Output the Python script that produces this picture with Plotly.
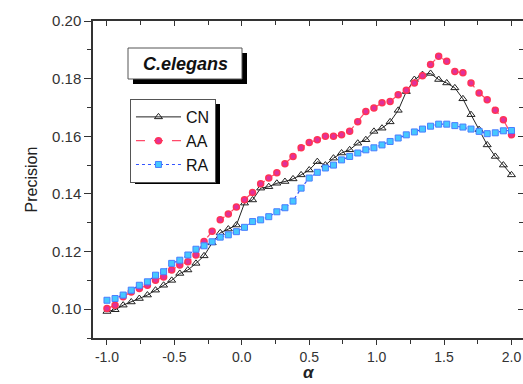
import plotly.graph_objects as go

alpha = [round(-1 + 0.06 * k, 2) for k in range(51)]

cn = [0.0992, 0.0998, 0.1014, 0.1025, 0.1037, 0.1049, 0.1066, 0.1083, 0.1100, 0.1124,
      0.1136, 0.1159, 0.1185, 0.1230, 0.1265, 0.1278, 0.1292, 0.1368, 0.1379, 0.1420,
      0.1425, 0.1437, 0.1443, 0.1452, 0.1466, 0.1483, 0.1512, 0.1500, 0.1524, 0.1542,
      0.1553, 0.1576, 0.1588, 0.1617, 0.1628, 0.1650, 0.1690, 0.1755, 0.1797, 0.1814,
      0.1818, 0.1797, 0.1785, 0.1768, 0.1730, 0.1675, 0.1623, 0.1570, 0.1530, 0.1500,
      0.1466]

aa = [0.1002, 0.1014, 0.1043, 0.1060, 0.1072, 0.1083, 0.1100, 0.1112, 0.1136, 0.1153,
      0.1165, 0.1188, 0.1235, 0.1270, 0.1310, 0.1330, 0.1355, 0.1380, 0.1405, 0.1435,
      0.1455, 0.1473, 0.1505, 0.1530, 0.1560, 0.1578, 0.1588, 0.1600, 0.1600, 0.1605,
      0.1617, 0.1650, 0.1686, 0.1698, 0.1716, 0.1721, 0.1744, 0.1760, 0.1785, 0.1810,
      0.1849, 0.1878, 0.1860, 0.1825, 0.1820, 0.1785, 0.1750, 0.1727, 0.1690, 0.1657,
      0.1605]

ra = [0.1031, 0.1037, 0.1049, 0.1066, 0.1083, 0.1095, 0.1118, 0.1130, 0.1159, 0.1170,
      0.1188, 0.1208, 0.1220, 0.1234, 0.1250, 0.1258, 0.1269, 0.1284, 0.1304, 0.1310,
      0.1321, 0.1338, 0.1352, 0.1375, 0.1420, 0.1455, 0.1475, 0.1490, 0.1500, 0.1518,
      0.1530, 0.1542, 0.1553, 0.1560, 0.1570, 0.1582, 0.1594, 0.1605, 0.1615, 0.1625,
      0.1635, 0.1642, 0.1642, 0.1637, 0.1632, 0.1625, 0.1617, 0.1609, 0.1612, 0.1619,
      0.1620]

x_tickvals = [-1.0, -0.5, 0.0, 0.5, 1.0, 1.5, 2.0]
x_ticktext = ["-1.0", "-0.5", "0.0", "0.5", "1.0", "1.5", "2.0"]
y_tickvals = [0.10, 0.12, 0.14, 0.16, 0.18, 0.20]
y_ticktext = ["0.10", "0.12", "0.14", "0.16", "0.18", "0.20"]

FONT = "Liberation Sans, Arial, sans-serif"
AXC = "#333333"

fig = go.Figure()
fig.add_trace(go.Scatter(
    x=alpha, y=cn, name="CN", mode="lines+markers",
    line=dict(color="#222222", width=1),
    marker=dict(symbol="triangle-up-open", size=7, color="#222222", line=dict(width=1))))
fig.add_trace(go.Scatter(
    x=alpha, y=aa, name="AA", mode="lines+markers",
    line=dict(color="#ff4a6a", width=1.2, dash="dash"),
    marker=dict(symbol="circle", size=6, color="#e0309c", line=dict(color="#ff3355", width=1.5))))
fig.add_trace(go.Scatter(
    x=alpha, y=ra, name="RA", mode="lines+markers",
    line=dict(color="#3355ff", width=1.2, dash="dot"),
    marker=dict(symbol="square", size=6, color="#45c8ff", line=dict(color="#4a7dff", width=1))))
# dummy trace to carry the mirrored (top/right) axes
fig.add_trace(go.Scatter(x=[None], y=[None], xaxis="x2", yaxis="y2", showlegend=False,
                         hoverinfo="skip"))

xr = [-1.1036, 2.0856]
yr = [0.09, 0.20]

fig.update_layout(
    width=523, height=384,
    margin=dict(l=93, r=0, t=21, b=46, autoexpand=False),
    paper_bgcolor="white", plot_bgcolor="white",
    font=dict(family=FONT, color="#222222"),
    showlegend=True,
    legend=dict(x=0.086, y=0.754, xanchor="left", yanchor="top",
                bgcolor="white", bordercolor="#555555", borderwidth=1,
                font=dict(size=16, color="#111111", family=FONT),
                itemwidth=45, tracegroupgap=0),
    xaxis=dict(range=xr, showgrid=False, zeroline=False, showline=True, automargin=False,
               linecolor=AXC, linewidth=1.5, ticks="outside", ticklen=5, tickwidth=1.2,
               tickcolor=AXC, tickvals=x_tickvals, ticktext=x_ticktext,
               tickfont=dict(size=14, color="#333333"),
               minor=dict(ticks="outside", ticklen=4, tickwidth=1.2, tickcolor=AXC,
                          tickvals=[-0.75, -0.25, 0.25, 0.75, 1.25, 1.75])),
    yaxis=dict(range=yr, showgrid=False, zeroline=False, showline=True, automargin=False,
               linecolor=AXC, linewidth=1.5, ticks="outside", ticklen=7, tickwidth=1.2,
               tickcolor=AXC, tickvals=y_tickvals, ticktext=y_ticktext,
               tickfont=dict(size=15, color="#333333"),
               minor=dict(ticks="outside", ticklen=4, tickwidth=1.2, tickcolor=AXC,
                          tickvals=[0.09, 0.11, 0.13, 0.15, 0.17, 0.19]),
               title=dict(text="Precision", font=dict(size=16, color="#222222"),
                          standoff=10)),
    xaxis2=dict(range=xr, overlaying="x", side="top", anchor="y", showgrid=False,
                zeroline=False, showline=True, linecolor=AXC, linewidth=1.5,
                ticks="inside", ticklen=5, tickwidth=1.2, tickcolor=AXC,
                tickvals=x_tickvals, showticklabels=False,
                minor=dict(ticks="inside", ticklen=4, tickwidth=1.2, tickcolor=AXC,
                           tickvals=[-0.75, -0.25, 0.25, 0.75, 1.25, 1.75])),
    yaxis2=dict(range=yr, overlaying="y", side="right", anchor="x", showgrid=False,
                zeroline=False, showline=True, linecolor=AXC, linewidth=1.5,
                ticks="inside", ticklen=5, tickwidth=1.2, tickcolor=AXC,
                tickvals=y_tickvals, showticklabels=False,
                minor=dict(ticks="inside", ticklen=4, tickwidth=1.2, tickcolor=AXC,
                           tickvals=[0.11, 0.13, 0.15, 0.17, 0.19])),
)

def px2paper(px, py):
    return (px - 93) / 430.0, (338 - py) / 317.0

# x-axis title (alpha), sitting at the bottom edge like the reference
ax_, ay_ = px2paper(309, 384)
fig.add_annotation(xref="paper", yref="paper", x=ax_, y=ay_, showarrow=False,
                   xanchor="center", yanchor="bottom", text="<b><i>α</i></b>",
                   font=dict(size=17, color="#222222", family=FONT))

# title box with drop shadow
sx0, sy0 = px2paper(133, 84)
sx1, sy1 = px2paper(247, 53)
bx0, by0 = px2paper(128, 79)
bx1, by1 = px2paper(242, 48)
fig.add_shape(type="rect", xref="paper", yref="paper", x0=sx0, y0=sy0, x1=sx1, y1=sy1,
              fillcolor="black", line=dict(width=0), layer="above")
fig.add_shape(type="rect", xref="paper", yref="paper", x0=bx0, y0=by0, x1=bx1, y1=by1,
              fillcolor="white", line=dict(color="#555555", width=1), layer="above")
tx, ty = px2paper(185, 64)
fig.add_annotation(xref="paper", yref="paper", x=tx, y=ty, showarrow=False,
                   xanchor="center", yanchor="middle",
                   text="<b><i>C.elegans</i></b>",
                   font=dict(size=18, color="#111111", family=FONT))

# legend shadow
lx0, ly0 = px2paper(135, 184)
lx1, ly1 = px2paper(220, 104)
fig.add_shape(type="rect", xref="paper", yref="paper", x0=lx0, y0=ly0, x1=lx1, y1=ly1,
              fillcolor="black", line=dict(width=0), layer="above")

fig.write_html("out.html")
